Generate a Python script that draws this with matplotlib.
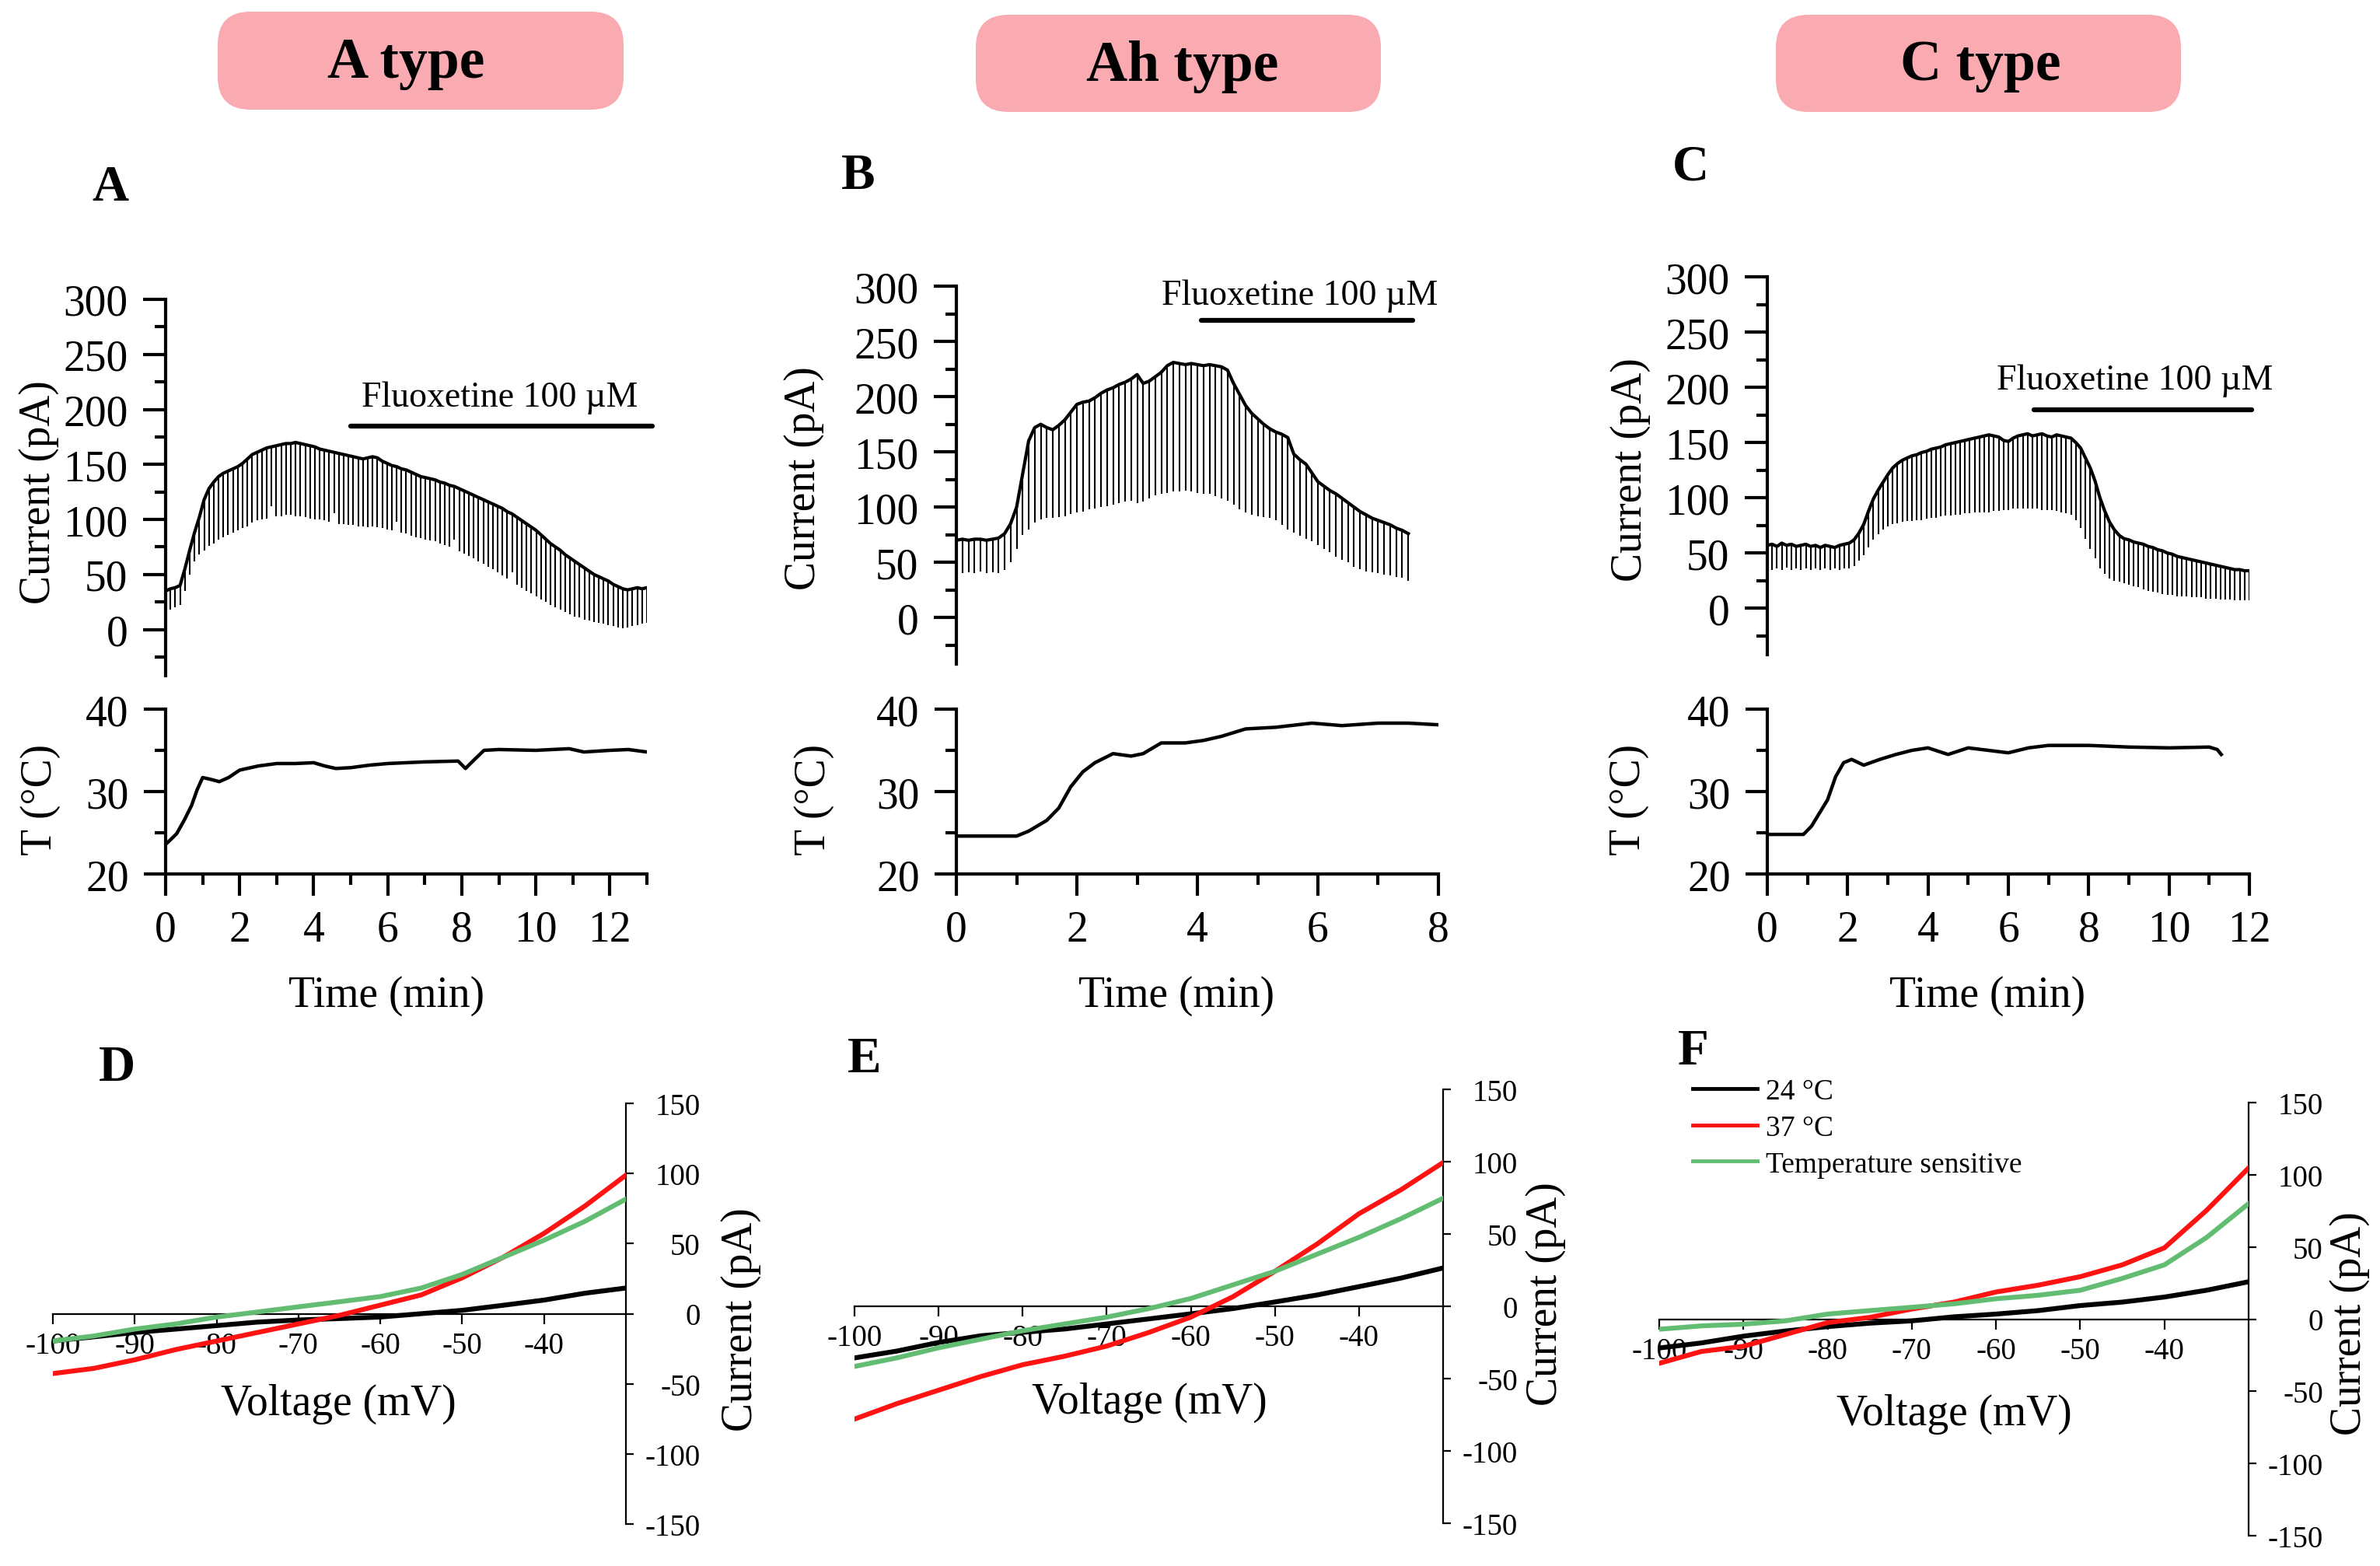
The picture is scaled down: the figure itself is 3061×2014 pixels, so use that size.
import numpy as np
import matplotlib
matplotlib.use("Agg")
import matplotlib.pyplot as plt
from matplotlib.patches import FancyBboxPatch
from matplotlib.lines import Line2D
from matplotlib.ticker import MultipleLocator

plt.rcParams["font.family"] = ["Liberation Serif", "DejaVu Serif"]
plt.rcParams["axes.unicode_minus"] = False

# ------------------------------------------------------------
# Datos
# ------------------------------------------------------------
types = ["A type", "Ah type", "C type"]
drug_label = "Fluoxetine 100 µM"

# corriente (pA): borde superior y punta de cada rampa
a_step = 0.13
a_top = [35, 37, 38, 40, 55, 72, 88, 102, 118, 128,
         134, 139, 142, 144, 146, 148, 151, 155, 159, 161,
         163, 165, 166, 167, 168, 169, 169, 170, 169, 168,
         167, 166, 164, 163, 162, 161, 160, 159, 158, 157,
         156, 155, 156, 157, 156, 153, 151, 149, 148, 146,
         145, 143, 141, 139, 138, 137, 136, 134, 133, 131,
         130, 128, 126, 124, 122, 120, 118, 116, 114, 112,
         110, 107, 105, 102, 99, 96, 93, 90, 86, 82,
         78, 75, 72, 68, 65, 62, 59, 56, 53, 50,
         48, 46, 44, 41, 39, 37, 36, 37, 38, 37,
         38]
a_bot = [20, 18, 20, 22, 35, 50, 62, 68, 72, 76,
         78, 82, 84, 86, 88, 90, 92, 94, 97, 99,
         100, 101, 112, 103, 103, 104, 104, 103, 103, 102,
         101, 100, 100, 99, 98, 106, 96, 96, 95, 95,
         94, 94, 93, 94, 93, 92, 91, 90, 98, 88,
         87, 85, 84, 83, 82, 81, 80, 78, 77, 75,
         82, 71, 69, 67, 65, 62, 60, 57, 55, 52,
         49, 46, 52, 41, 38, 35, 33, 30, 27, 25,
         22, 20, 18, 16, 14, 12, 11, 9, 8, 7,
         6, 5, 4, 3, 2, 1, 2, 3, 4, 5,
         6]

b_step = 0.1
b_top = [70, 71, 70, 71, 71, 70, 71, 72, 76, 85,
         100, 130, 160, 172, 175, 172, 170, 174, 179, 186,
         193, 195, 196, 199, 203, 206, 208, 211, 213, 216,
         220, 212, 214, 218, 222, 228, 231, 230, 229, 230,
         229, 228, 229, 228, 227, 224, 212, 202, 192, 185,
         180, 175, 171, 168, 166, 163, 148, 143, 139, 131,
         123, 119, 115, 112, 108, 104, 100, 96, 93, 90,
         88, 86, 84, 81, 79, 76]
b_bot = [42, 40, 41, 40, 42, 40, 41, 40, 43, 50,
         62, 75, 80, 86, 89, 90, 90, 91, 92, 94,
         95, 96, 98, 99, 100, 101, 102, 104, 105, 106,
         104, 105, 108, 111, 112, 113, 114, 114, 115, 114,
         113, 112, 112, 110, 108, 106, 102, 98, 95, 93,
         92, 91, 90, 88, 84, 80, 77, 74, 71, 69,
         66, 62, 59, 55, 52, 50, 46, 44, 42, 41,
         40, 39, 38, 37, 36, 33]

c_step = 0.12
c_top = [57, 58, 56, 59, 57, 58, 56, 57, 58, 56,
         57, 55, 57, 56, 55, 57, 58, 59, 62, 68,
         76, 88, 99, 107, 114, 121, 127, 131, 134, 136,
         138, 139, 141, 142, 144, 145, 146, 148, 149, 150,
         151, 152, 153, 154, 155, 156, 157, 156, 155, 152,
         151, 154, 156, 157, 158, 156, 157, 158, 156, 155,
         157, 156, 155, 154, 150, 145, 136, 127, 115, 100,
         88, 78, 71, 66, 63, 62, 60, 59, 58, 56,
         55, 53, 52, 50, 49, 47, 46, 45, 44, 43,
         42, 41, 40, 39, 38, 37, 36, 35, 35, 34,
         34]
c_bot = [36, 35, 36, 35, 37, 35, 36, 35, 36, 35,
         36, 35, 36, 35, 36, 35, 36, 36, 38, 43,
         48, 55, 62, 67, 71, 74, 76, 77, 78, 79,
         79, 80, 80, 81, 82, 82, 83, 84, 84, 85,
         85, 86, 86, 87, 87, 87, 87, 88, 88, 89,
         89, 90, 90, 90, 90, 90, 90, 89, 89, 89,
         88, 87, 86, 85, 80, 73, 63, 54, 45, 36,
         31, 27, 25, 24, 23, 21, 20, 19, 17, 16,
         15, 14, 13, 12, 12, 11, 11, 11, 10, 10,
         10, 9, 9, 9, 8, 8, 8, 7, 7, 7,
         7]

# periodo con fluoxetina (min)
a_drug = [5.0, 13.15]
b_drug = [4.06, 7.58]
c_drug = [6.64, 12.05]

# temperatura
a_t = [0, 0.12, 0.3, 0.5, 0.7, 0.85, 1.0, 1.2, 1.45, 1.7, 2.0, 2.5, 3.0, 3.5, 4.0, 4.3,
       4.6, 5.0, 5.5, 6.0, 7.0, 7.9, 8.1, 8.3, 8.6, 9.0, 10.0, 10.9, 11.3, 12.0, 12.5, 13.0]
a_temp = [23.6, 24.1, 24.9, 26.5, 28.3, 30.2, 31.7, 31.5, 31.2, 31.7, 32.6, 33.1, 33.4, 33.4,
          33.5, 33.1, 32.8, 32.9, 33.2, 33.4, 33.6, 33.7, 32.8, 33.7, 35.0, 35.1, 35.0, 35.2,
          34.8, 35.0, 35.1, 34.8]
b_t = [0, 1.0, 1.2, 1.5, 1.7, 1.9, 2.1, 2.3, 2.6, 2.9, 3.1, 3.4, 3.8, 4.1, 4.4, 4.8, 5.3,
       5.9, 6.4, 7.0, 7.5, 8.0]
b_temp = [24.6, 24.6, 25.2, 26.5, 28.0, 30.6, 32.4, 33.5, 34.6, 34.3, 34.6, 35.9, 35.9, 36.2,
          36.7, 37.6, 37.8, 38.3, 38.0, 38.3, 38.3, 38.1]
c_t = [0, 0.9, 1.1, 1.3, 1.5, 1.7, 1.9, 2.1, 2.4, 2.8, 3.2, 3.6, 4.0, 4.5, 5.0, 5.5, 6.0,
       6.5, 7.0, 8.0, 9.0, 10.0, 11.0, 11.2, 11.3]
c_temp = [24.8, 24.8, 25.8, 27.4, 29.0, 31.8, 33.5, 33.9, 33.2, 33.9, 34.5, 35.0, 35.3, 34.5,
          35.3, 35.0, 34.7, 35.3, 35.6, 35.6, 35.4, 35.3, 35.4, 35.1, 34.5]

# curvas I-V
voltage = [-100, -95, -90, -85, -80, -75, -70, -65, -60, -55, -50, -45, -40, -35, -30]
d_24 = [-19.5, -16.5, -13.4, -11, -8.5, -6, -4.5, -3.5, -2.4, 0, 2.4, 6, 9.7, 14.6, 18.3]
d_37 = [-42.7, -39, -32.9, -25.6, -19.5, -13.4, -7.3, -1.2, 6.1, 13.4, 25.6, 40.2, 57.3, 76.8, 98.8]
d_ts = [-19.5, -15.9, -11, -7.3, -2.4, 1.2, 4.9, 8.5, 12.2, 18.3, 28, 40.2, 52.4, 65.9, 81.7]
e_24 = [-35.7, -31, -25, -20.4, -18, -15.7, -12.2, -8.7, -5.2, -1.6, 3, 7.8, 13.6, 19.5, 26.5]
e_37 = [-78, -67.4, -58, -48.6, -40.4, -34.5, -27.5, -18.1, -7.5, 6.6, 24.2, 43, 64, 80.6, 99.4]
e_ts = [-41.6, -35.7, -28.7, -22.8, -16.9, -12.2, -7.5, -1.6, 5.4, 14.8, 24.2, 36, 47.7, 60.6, 74.7]
f_24 = [-20, -16.5, -11.8, -8.2, -5.2, -2.8, -1.2, 1.6, 3.5, 5.9, 9.4, 11.8, 15.3, 20, 25.9]
f_37 = [-30.6, -22.4, -18.8, -10.6, -2.4, 1.2, 7, 11.8, 18.8, 23.5, 29.4, 37.6, 49.4, 75.3, 104.7]
f_ts = [-7, -4.7, -3.5, -1.2, 3.5, 5.9, 8.2, 10.6, 14.1, 16.5, 20, 28.2, 37.6, 56.5, 80]
iv_labels = ["24 °C", "37 °C", "Temperature sensitive"]

# ------------------------------------------------------------
# Figura (coordenadas en pixeles)
# ------------------------------------------------------------
W, H = 3061, 2015
PINK = "#F9ABB1"
RED = "#FF1212"
GREEN = "#62BD72"

fig = plt.figure(figsize=(W / 100, H / 100), dpi=100)

ov = fig.add_axes([0, 0, 1, 1])
ov.set_xlim(0, W)
ov.set_ylim(H, 0)
ov.axis("off")


def px_axes(x0, y0, x1, y1):
    ax = fig.add_axes([x0 / W, 1 - y1 / H, (x1 - x0) / W, (y1 - y0) / H])
    ax.patch.set_visible(False)
    return ax


def ftext(x, y, s, **kw):
    ov.text(x, y, s, **kw)


# cabeceras
boxes = [(280, 16, 802, 142), (1255, 20, 1776, 145), (2284, 20, 2805, 145)]
for name, (x0, y0, x1, y1), (tx, ty) in zip(types, boxes,
                                            [(522, 100), (1521, 104), (2547, 103)]):
    ov.add_patch(FancyBboxPatch((x0, y0), x1 - x0, y1 - y0,
                                boxstyle="round,pad=0,rounding_size=42",
                                facecolor=PINK, edgecolor="none"))
    ftext(tx, ty, name, ha="center", va="baseline", fontsize=53, fontweight="bold")

# letras de panel
for letter, (x, y) in zip("ABCDEF", [(142, 242), (1104, 227), (2174, 216),
                                     (150, 1374), (1112, 1363), (2178, 1353)]):
    ftext(x, y, letter, ha="center", va="center", fontsize=47, fontweight="bold")


def current_panel(box, step, top, bot, tmax, drug, bar_y, txt_x, txt_y):
    ax = px_axes(*box)
    t = np.arange(len(top)) * step
    ax.vlines(t, bot, top, color="black", lw=1.5)
    ax.plot(t, top, color="black", lw=3)
    ax.set_xlim(0, tmax)
    ax.set_ylim(-42, 300)
    for s in ["top", "right", "bottom"]:
        ax.spines[s].set_visible(False)
    ax.spines["left"].set_linewidth(3)
    ax.yaxis.set_major_locator(MultipleLocator(50))
    ax.yaxis.set_minor_locator(MultipleLocator(25))
    ax.tick_params(axis="y", which="major", length=21, width=3, labelsize=40, pad=14)
    ax.tick_params(axis="y", which="minor", length=10, width=3)
    ax.set_xticks([])
    ax.plot(drug, [bar_y, bar_y], color="black", lw=4.5,
            solid_capstyle="round", clip_on=False)
    ax.text(txt_x, txt_y, drug_label, ha="center", va="baseline", fontsize=33)
    return ax


def temp_panel(box, t, temp, tmax):
    ax = px_axes(*box)
    ax.plot(t, temp, color="black", lw=3.2)
    ax.set_xlim(0, tmax)
    ax.set_ylim(20, 40)
    for s in ["top", "right"]:
        ax.spines[s].set_visible(False)
    for s in ["left", "bottom"]:
        ax.spines[s].set_linewidth(3)
    ax.xaxis.set_major_locator(MultipleLocator(2))
    ax.xaxis.set_minor_locator(MultipleLocator(1))
    ax.yaxis.set_major_locator(MultipleLocator(10))
    ax.yaxis.set_minor_locator(MultipleLocator(5))
    ax.tick_params(which="major", length=20, width=3, labelsize=40)
    ax.tick_params(which="minor", length=10, width=3)
    ax.tick_params(axis="x", pad=13)
    ax.tick_params(axis="y", pad=14)
    return ax


current_panel((213, 386, 832, 870), a_step, a_top, a_bot, 13, a_drug, 185, 9.03, 203)
current_panel((1230, 369, 1850, 855), b_step, b_top, b_bot, 8, b_drug, 269, 5.7, 284)
current_panel((2273, 357, 2893, 843), c_step, c_top, c_bot, 12, c_drug, 180, 9.14, 198.5)

temp_panel((213, 913, 832, 1125), a_t, a_temp, 13)
temp_panel((1230, 913, 1850, 1125), b_t, b_temp, 8)
temp_panel((2273, 913, 2893, 1125), c_t, c_temp, 12)

for x, yc in [(50, 633), (1034, 615), (2097, 604)]:
    ftext(x, yc, "Current (pA)", rotation=90, ha="center", va="center", fontsize=40)
for x in [52, 1047, 2095]:
    ftext(x, 1028, "T (°C)", rotation=90, ha="center", va="center", fontsize=40)
for x in [497, 1513, 2556]:
    ftext(x, 1281, "Time (min)", ha="center", va="center", fontsize=40)


def iv_panel(box, i24, i37, its):
    ax = px_axes(*box)
    ax.plot(voltage, i24, color="black", lw=4.5, zorder=3)
    ax.plot(voltage, i37, color=RED, lw=4.5, zorder=3)
    ax.plot(voltage, its, color=GREEN, lw=4.5, zorder=3)
    ax.set_xlim(-100, -30)
    ax.set_ylim(-150, 150)
    ax.spines["left"].set_visible(False)
    ax.spines["top"].set_visible(False)
    ax.spines["bottom"].set_position(("data", 0))
    ax.spines["bottom"].set_linewidth(1.6)
    ax.spines["right"].set_linewidth(1.6)
    ax.yaxis.tick_right()
    ax.set_xticks([-100, -90, -80, -70, -60, -50, -40])
    ax.set_yticks([-150, -100, -50, 0, 50, 100, 150])
    ax.tick_params(axis="x", length=9, width=1.6, labelsize=28, pad=7)
    ax.tick_params(axis="y", length=7, width=1.6, labelsize=28, pad=62)
    for lab in ax.get_yticklabels():
        lab.set_ha("right")
    return ax


iv_panel((68, 1420, 805, 1961), d_24, d_37, d_ts)
iv_panel((1099, 1402, 1856, 1960), e_24, e_37, e_ts)
ax_f = iv_panel((2134, 1419, 2892, 1976), f_24, f_37, f_ts)

for x, y in [(435, 1806), (1478, 1804), (2513, 1819)]:
    ftext(x, y, "Voltage (mV)", ha="center", va="center", fontsize=40)
for x, y in [(953, 1697), (1988, 1664), (3022, 1702)]:
    ftext(x, y, "Current (pA)", rotation=90, ha="center", va="center", fontsize=40)

handles = [Line2D([], [], color=c, lw=3.5) for c in ["black", RED, GREEN]]
ax_f.legend(handles, iv_labels, loc="upper left",
            bbox_to_anchor=(2177 / W, 1 - 1388 / H), bbox_transform=fig.transFigure,
            frameon=False, fontsize=27, handlelength=2.2, handletextpad=0.3,
            labelspacing=0.32, borderpad=0, borderaxespad=0)

fig.savefig("out.png", dpi=100)
